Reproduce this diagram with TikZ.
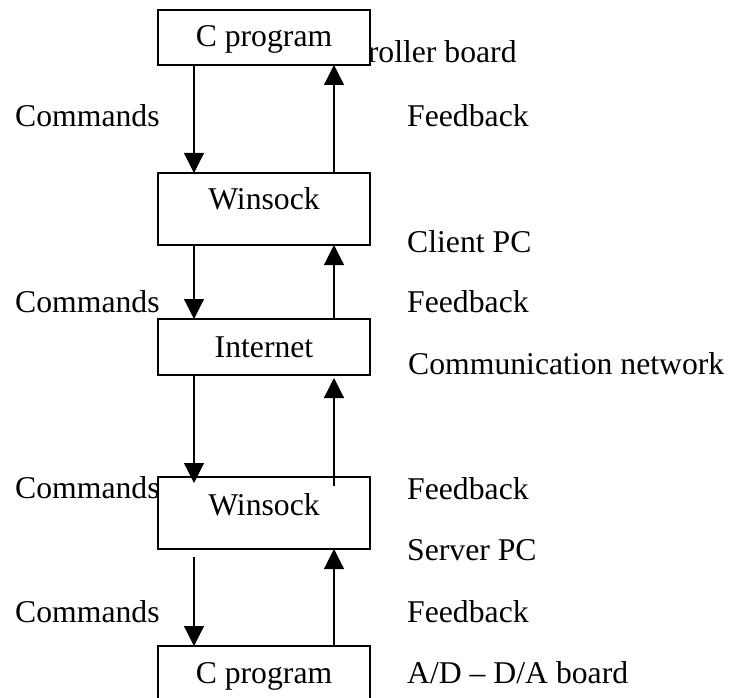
\documentclass[tikz,border=0pt]{standalone}
\usepackage{fontspec}
\setmainfont{Liberation Serif}
\usetikzlibrary{arrows.meta}
\begin{document}
\begin{tikzpicture}[x=1pt,y=-1pt,
  box/.style={draw, line width=1.2pt, fill=white, minimum width=212pt, inner sep=0pt, outer sep=0pt},
  lbl/.style={inner sep=0pt, font=\fontsize{31.7}{38}\selectfont},
  arr/.style={line width=1.2pt, -{Triangle[length=20pt,width=20pt]}}]
\useasboundingbox (0,0) rectangle (729,698);
% text partly hidden by the top box
\node[lbl, anchor=base west] (ctl) at (306,63) {Controller board};
% boxes
\node[box, minimum height=55pt] (b1) at (264,37.5) {};
\node[box, minimum height=72pt] (b2) at (264,209) {};
\node[box, minimum height=56pt] (b3) at (264,347) {};
\node[box, minimum height=72pt] (b4) at (264,513) {};
\node[box, minimum height=70pt] (b5) at (264,681) {};
% box texts
\node[lbl, anchor=base] (t1) at (264,47) {C program};
\node[lbl, anchor=base] (t2) at (264,210) {Winsock};
\node[lbl, anchor=base] (t3) at (264,357) {Internet};
\node[lbl, anchor=base] (t4) at (264,515) {Winsock};
\node[lbl, anchor=base] (t5) at (264,683) {C program};
% arrow columns
\coordinate (L) at (194,0);
\coordinate (R) at (334,0);
\coordinate (a5) at (194,483);
\coordinate (a6) at (334,486);
\coordinate (a6t) at (334,378);
\coordinate (a7) at (194,557);
% arrows
\draw[arr] (b1.south -| L) -- (b2.north -| L);
\draw[arr] (b2.north -| R) -- (b1.south -| R);
\draw[arr] (b2.south -| L) -- (b3.north -| L);
\draw[arr] (b3.north -| R) -- (b2.south -| R);
\draw[arr] (b3.south -| L) -- (a5);
\draw[arr] (a6) -- (a6t);
\draw[arr] (a7) -- (b5.north -| L);
\draw[arr] (b5.north -| R) -- (b4.south -| R);
% left labels
\node[lbl, anchor=base west] (c1) at (15,127) {Commands};
\node[lbl, anchor=base west] (c2) at (15,312) {Commands};
\node[lbl, anchor=base west] (c3) at (15,498) {Commands};
\node[lbl, anchor=base west] (c4) at (15,622) {Commands};
% right labels
\node[lbl, anchor=base west] (f1) at (407,127) {Feedback};
\node[lbl, anchor=base west] (cp) at (407,252) {Client PC};
\node[lbl, anchor=base west] (f2) at (407,312) {Feedback};
\node[lbl, anchor=base west] (cn) at (408,374) {Communication network};
\node[lbl, anchor=base west] (f3) at (407,499) {Feedback};
\node[lbl, anchor=base west] (sp) at (407,560) {Server PC};
\node[lbl, anchor=base west] (f4) at (407,622) {Feedback};
\node[lbl, anchor=base west] (ad) at (407,683) {A/D -- D/A board};
\end{tikzpicture}
\end{document}
